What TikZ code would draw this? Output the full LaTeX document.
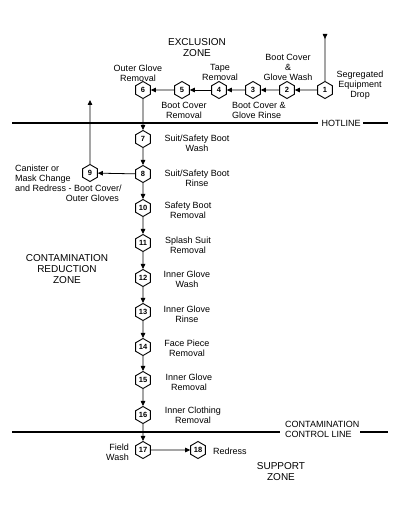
\documentclass[tikz,border=0pt]{standalone}
\usepackage{fontspec}
\setmainfont{Liberation Sans}
\usetikzlibrary{shapes.geometric,arrows.meta}
\begin{document}
\begin{tikzpicture}[x=1pt,y=-1pt,
  hex/.style={draw,regular polygon,regular polygon sides=6,shape border rotate=30,
    minimum size=17pt,inner sep=0pt,line width=0.9pt,fill=white,
    font=\fontsize{7.5}{7.5}\selectfont\bfseries},
  arr/.style={line width=0.8pt,-{Triangle[length=5pt,width=4.5pt]}},
  bar/.style={line width=1.8pt},
  lbl/.style={font=\fontsize{9}{10}\selectfont,align=center,inner sep=0pt},
  zone/.style={font=\fontsize{10}{11}\selectfont,align=center,inner sep=0pt}]
\useasboundingbox (0,0) rectangle (400,505);
% hexagons
\node[hex] (h1) at (325,90) {1};
\node[hex] (h2) at (287,90) {2};
\node[hex] (h3) at (253,90) {3};
\node[hex] (h4) at (219,90) {4};
\node[hex] (h5) at (182,90) {5};
\node[hex] (h6) at (143,90) {6};
\node[hex] (h7) at (143,139) {7};
\node[hex] (h8) at (143,174) {8};
\node[hex] (h9) at (90,173) {9};
\node[hex] (h10) at (143,208) {10};
\node[hex] (h11) at (143,243) {11};
\node[hex] (h12) at (143,278) {12};
\node[hex] (h13) at (143,312) {13};
\node[hex] (h14) at (143,347) {14};
\node[hex] (h15) at (143,380) {15};
\node[hex] (h16) at (143,415) {16};
\node[hex] (h17) at (143,450) {17};
\node[hex] (h18) at (198,450) {18};
% free ends
\coordinate (top1) at (325,34);
\coordinate (up9) at (90,100);
% connectors
\draw[line width=0.8pt,{Triangle[reversed,length=5pt,width=4.5pt]}-] (top1) -- (h1);
\draw[arr] (h1) -- (h2);
\draw[arr] (h2) -- (h3);
\draw[arr] (h3) -- (h4);
\draw[arr] (h4) -- (h5);
\draw[arr] (h5) -- (h6);
\draw[arr] (h6) -- (h7);
\draw[arr] (h7) -- (h8);
\draw[arr] (h8) -- (h9);
\draw[arr] (h9) -- (up9);
\draw[arr] (h8) -- (h10);
\draw[arr] (h10) -- (h11);
\draw[arr] (h11) -- (h12);
\draw[arr] (h12) -- (h13);
\draw[arr] (h13) -- (h14);
\draw[arr] (h14) -- (h15);
\draw[arr] (h15) -- (h16);
\draw[arr] (h16) -- (h17);
\draw[arr] (h17) -- (h18);
% hotline
\coordinate (hlA) at (12,123);
\coordinate (hlB) at (318,123);
\coordinate (hlC) at (363,123);
\coordinate (hlD) at (388,123);
\node[zone,font=\fontsize{9}{10}\selectfont] (hot) at (341,123) {HOTLINE};
\draw[bar] (hlA) -- (hlB);
\draw[bar] (hlC) -- (hlD);
% contamination control line
\coordinate (ccA) at (12,432);
\coordinate (ccB) at (280,432);
\coordinate (ccC) at (360,432);
\coordinate (ccD) at (388,432);
\node[zone,font=\fontsize{9}{10}\selectfont,align=left,anchor=west] (ccl) at (285,429) {CONTAMINATION\\CONTROL LINE};
\draw[bar] (ccA) -- (ccB);
\draw[bar] (ccC) -- (ccD);
% zone labels
\node[zone] (zex) at (197,48) {EXCLUSION\\ZONE};
\node[zone] (zcr) at (67,269) {CONTAMINATION\\REDUCTION\\ZONE};
\node[zone] (zsu) at (281,472) {SUPPORT\\ZONE};
% step labels
\node[lbl] (l6) at (138,73) {Outer Glove\\Removal};
\node[lbl] (l4) at (220,72) {Tape\\Removal};
\node[lbl] (l2) at (288,67) {Boot Cover\\\&\\Glove Wash};
\node[lbl] (l1) at (360,85) {Segregated\\Equipment\\Drop};
\node[lbl] (l5) at (184,110) {Boot Cover\\Removal};
\node[lbl,align=left,anchor=west] (l3) at (232,110) {Boot Cover \&\\Glove Rinse};
\node[lbl] (l7) at (197,143) {Suit/Safety Boot\\Wash};
\node[lbl] (l8) at (197,178) {Suit/Safety Boot\\Rinse};
\node[lbl,align=left,anchor=west] (l9) at (15,178) {Canister or\\Mask Change\\and Redress - Boot Cover/};
\node[lbl,anchor=east] (l9b) at (119,198) {Outer Gloves};
\node[lbl] (l10) at (188,210) {Safety Boot\\Removal};
\node[lbl] (l11) at (188,245) {Splash Suit\\Removal};
\node[lbl] (l12) at (187,279) {Inner Glove\\Wash};
\node[lbl] (l13) at (187,314) {Inner Glove\\Rinse};
\node[lbl] (l14) at (187,348) {Face Piece\\Removal};
\node[lbl] (l15) at (189,382) {Inner Glove\\Removal};
\node[lbl] (l16) at (193,415) {Inner Clothing\\Removal};
\node[lbl,align=right,anchor=east] (l17) at (129,452) {Field\\Wash};
\node[lbl,anchor=west] (l18) at (213,451) {Redress};
\end{tikzpicture}
\end{document}
